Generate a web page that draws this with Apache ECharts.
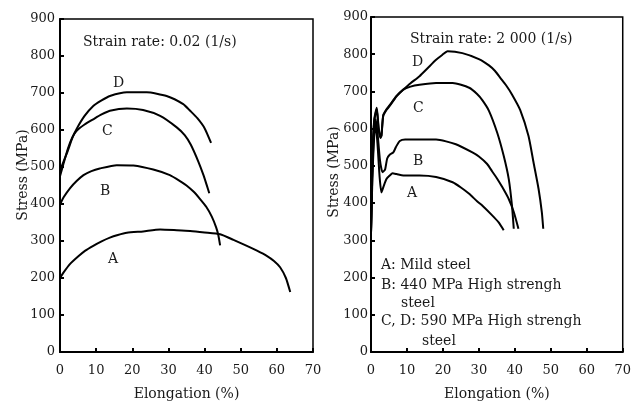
<!DOCTYPE html>
<html><head><meta charset="utf-8">
<script src="https://cdn.jsdelivr.net/npm/echarts@6/dist/echarts.min.js"></script>
<style>html,body{margin:0;padding:0;background:#fff}#c{width:634px;height:406px}</style>
</head><body><div id="c"></div>
<script>
// Elongation (%) vs Stress (MPa)
const xTicks = [0, 10, 20, 30, 40, 50, 60, 70];
const yTicks = [0, 100, 200, 300, 400, 500, 600, 700, 800, 900];

// Left panel: strain rate 0.02 (1/s)
const leftA = [[0,200],[1,215],[2.8,238],[5,258],[7,274],[9.2,287],[11.5,299],[13.8,309],[16,316],[18.5,322],[23,326],[27.7,331],[32.3,329],[36,327],[40,323],[44.3,318],[48,303],[51.7,287],[54.5,274],[57.2,260],[59.2,246],[60.9,229],[62.5,200],[63.7,162]];
const leftB = [[0,398],[1,418],[2.8,443],[4.6,462],[6.5,478],[8.7,489],[11,496],[15.7,505],[20.3,504],[25.8,493],[30.4,478],[33.2,462],[35,450],[37,433],[38.7,414],[40.5,392],[42,366],[43.2,337],[43.8,316],[44.3,288]];
const leftC = [[0,475],[1,510],[2.2,550],[3.4,580],[4.6,598],[6.8,615],[9.2,629],[11.5,642],[13.8,652],[18.5,658],[23,654],[27.7,638],[32.3,607],[34.5,586],[36.2,560],[38.3,514],[39.7,478],[40.6,451],[41.3,429]];
const leftD = [[0,490],[1,515],[2.2,545],[3.4,578],[4.6,603],[6.8,638],[9.2,665],[11.5,680],[13.8,692],[18.5,702],[24,702],[29.5,692],[34.1,670],[36,652],[38,632],[40,605],[41.8,565]];

// Right panel: strain rate 2 000 (1/s)
const rightA = [[0,320],[0.4,470],[0.9,580],[1.3,610],[1.8,560],[2.4,470],[2.9,429],[3.5,445],[4.3,465],[5.2,474],[6,480],[7.1,478],[9,474],[13.5,474],[18.1,470],[22.7,456],[25,442],[27.3,425],[29.5,405],[31,393],[33.7,367],[35.5,348],[36.9,327]];
const rightB = [[0,320],[0.4,490],[0.9,600],[1.3,625],[1.8,590],[2.5,515],[3.2,483],[3.9,490],[4.5,520],[5.2,530],[6.2,536],[7,552],[8,567],[9.5,571],[11.7,571],[18.1,571],[23.6,558],[28.2,536],[30,525],[32.3,505],[33.7,485],[35,467],[36.5,443],[38.3,411],[39.7,376],[41,331]];
const rightC = [[0,320],[0.4,520],[0.9,620],[1.6,652],[2.1,600],[2.6,575],[2.9,580],[3.4,634],[4.3,650],[5.2,661],[7.1,687],[9,705],[11,713],[13.5,718],[18.1,723],[22.7,723],[27.3,710],[29.5,693],[31,676],[32.8,648],[35.1,589],[36.9,527],[38.3,465],[39.2,393],[39.7,331]];
const rightD = [[0,320],[0.4,525],[0.9,625],[1.6,656],[2.1,605],[2.6,578],[2.9,582],[3.4,636],[4.3,652],[5.2,663],[7.1,688],[9,705],[11,722],[13.5,741],[15.8,763],[18.1,785],[19.8,798],[21.3,808],[25.4,803],[30,787],[32.8,770],[34.5,755],[36,736],[37.6,716],[39.2,692],[41.5,650],[43.8,580],[45.2,509],[46.6,438],[47.5,376],[47.9,331]];

const FONT = '"DejaVu Serif", "Liberation Serif", serif';
const TXT = '#1a1a1a';

function xAx(gi){
  return {gridIndex:gi, type:'value', min:xTicks[0], max:xTicks[xTicks.length-1], interval:10,
    name:'Elongation (%)', nameLocation:'middle', nameGap:35,
    nameTextStyle:{fontFamily:FONT,fontSize:14,color:TXT},
    axisLine:{show:true,lineStyle:{color:'#000',width:2}},
    axisTick:{show:true,inside:true,length:4,lineStyle:{color:'#000',width:2}},
    axisLabel:{fontFamily:FONT,fontSize:13,color:TXT,margin:12},
    splitLine:{show:false}};
}
function yAx(gi,margin){
  return {gridIndex:gi, type:'value', min:yTicks[0], max:yTicks[yTicks.length-1], interval:100,
    axisLine:{show:true,lineStyle:{color:'#000',width:2}},
    axisTick:{show:true,inside:true,length:4,lineStyle:{color:'#000',width:2}},
    axisLabel:{fontFamily:FONT,fontSize:13,color:TXT,margin:margin},
    splitLine:{show:false}};
}
function ln(data,xi){
  return {type:'line', xAxisIndex:xi, yAxisIndex:xi, data:data, showSymbol:false, smooth:0.2,
    lineStyle:{color:'#000',width:2}, silent:true, animation:false};
}
function t(x,y,s,size){
  return {type:'text', left:x, top:y, style:{text:s, font:(size||14)+'px '+FONT, fill:TXT}};
}
function vt(x,y,s){
  return {type:'text', x:x, y:y, rotation:Math.PI/2,
    style:{text:s, font:'14px '+FONT, fill:TXT, align:'center', verticalAlign:'middle'}};
}
const chart = echarts.init(document.getElementById('c'), null, {renderer:'canvas'});
chart.setOption({
  animation:false,
  backgroundColor:'#fff',
  grid:[
    {left:60, top:19, width:253, height:337, show:true, borderColor:'#000', borderWidth:1.5},
    {left:371, top:17, width:254, height:337, show:true, borderColor:'#000', borderWidth:1.5}
  ],
  xAxis:[xAx(0), xAx(1)],
  yAxis:[yAx(0,5), yAx(1,3)],
  series:[ln(leftA,0),ln(leftB,0),ln(leftC,0),ln(leftD,0),ln(rightA,1),ln(rightB,1),ln(rightC,1),ln(rightD,1)],
  graphic:[
    vt(23,175,'Stress (MPa)'),
    vt(334,172,'Stress (MPa)'),
    t(83,35,'Strain rate: 0.02 (1/s)'),
    t(113,76,'D'), t(102,124,'C'), t(100,184,'B'), t(108,252,'A'),
    t(410,32,'Strain rate: 2 000 (1/s)'),
    t(412,55,'D'), t(413,101,'C'), t(413,154,'B'), t(407,186,'A'),
    t(381,258,'A: Mild steel'),
    t(381,278,'B: 440 MPa High strengh'),
    t(401,296,'steel'),
    t(381,314,'C, D: 590 MPa High strengh'),
    t(422,334,'steel')
  ]
});
</script></body></html>
